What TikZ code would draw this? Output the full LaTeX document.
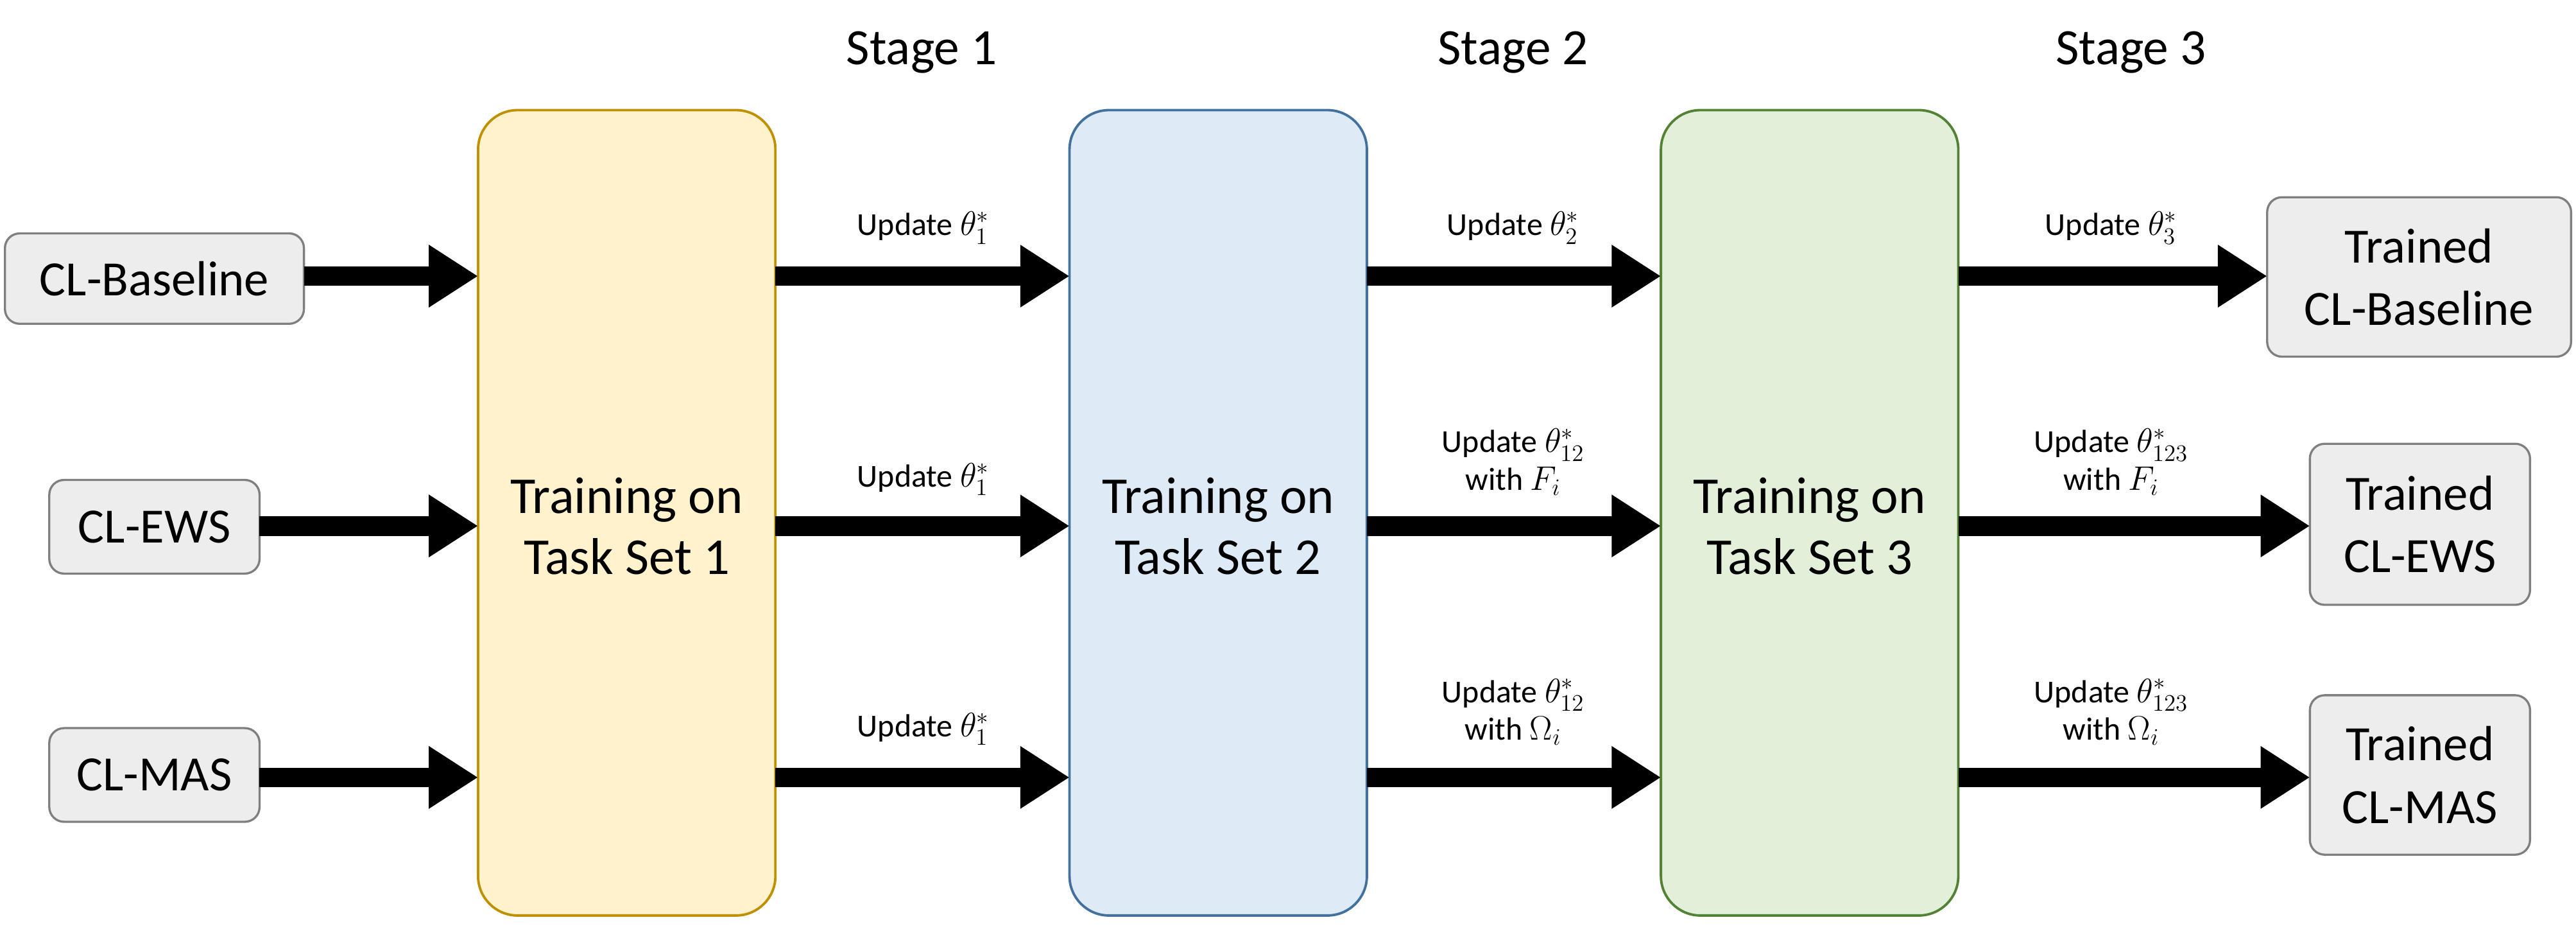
\documentclass[tikz,border=0pt]{standalone}
\usepackage{fontspec}
\setmainfont{Carlito}
\usetikzlibrary{arrows.meta}
\definecolor{yfill}{HTML}{FFF2CC}\definecolor{ydraw}{HTML}{BF9000}
\definecolor{bfill}{HTML}{DEEBF7}\definecolor{bdraw}{HTML}{41719C}
\definecolor{gfill}{HTML}{E2F0D9}\definecolor{gdraw}{HTML}{548235}
\definecolor{sfill}{HTML}{EDEDED}\definecolor{sdraw}{HTML}{7F7F7F}
\begin{document}
\begin{tikzpicture}[x=1pt,y=-1pt,
 stagebox/.style={rounded corners=24pt,line width=1.5pt,align=center,font=\fontsize{31.5}{37}\selectfont},
 smallbox/.style={rounded corners=9pt,line width=1.3pt,draw=sdraw,fill=sfill,align=center,font=\fontsize{30}{38}\selectfont},
 bigarrow/.style={line width=12pt,-{Triangle[length=30pt,width=36pt]}},
 lbl/.style={font=\fontsize{19.5}{23}\selectfont,align=center,anchor=south},
 stg/.style={font=\fontsize{31}{36}\selectfont}]
\useasboundingbox (0,0) rectangle (1568,576);
\draw[stagebox,draw=ydraw,fill=yfill] (291,67) rectangle (472,557);
\draw[stagebox,draw=bdraw,fill=bfill] (651,67) rectangle (832,557);
\draw[stagebox,draw=gdraw,fill=gfill] (1011,67) rectangle (1192,557);
\node[stagebox,draw=none] (s1) at (381.5,320) {Training on\\Task Set 1};
\node[stagebox,draw=none] (s2) at (741.5,320) {Training on\\Task Set 2};
\node[stagebox,draw=none] (s3) at (1101.5,320) {Training on\\Task Set 3};
\node[stg] (t1) at (561,32) {Stage 1};
\node[stg] (t2) at (921,32) {Stage 2};
\node[stg] (t3) at (1297,32) {Stage 3};
\draw[smallbox] (3,142) rectangle (185,197) node[midway,draw=none] (b1) {CL-Baseline};
\draw[smallbox] (30,292) rectangle (158,349) node[midway,draw=none] (b2) {CL-EWS};
\draw[smallbox] (30,443) rectangle (158,500) node[midway,draw=none] (b3) {CL-MAS};
\draw[smallbox] (1380,120) rectangle (1565,217) node[midway,draw=none] (r1) {Trained\\CL-Baseline};
\draw[smallbox] (1406,270) rectangle (1540,368) node[midway,draw=none] (r2) {Trained\\CL-EWS};
\draw[smallbox] (1406,423) rectangle (1540,520) node[midway,draw=none] (r3) {Trained\\CL-MAS};
\coordinate (L1) at (291,168); \coordinate (L2) at (291,320); \coordinate (L3) at (291,473);
\foreach \y/\n in {168/1,320/2,473/3}{
 \coordinate (a\n) at (472,\y); \coordinate (b\n) at (651,\y);
 \coordinate (c\n) at (832,\y); \coordinate (d\n) at (1011,\y);
 \coordinate (e\n) at (1192,\y);}
\draw[bigarrow] (185,168) -- (L1);
\draw[bigarrow] (158,320) -- (L2);
\draw[bigarrow] (158,473) -- (L3);
\draw[bigarrow] (a1) -- (b1); \draw[bigarrow] (a2) -- (b2); \draw[bigarrow] (a3) -- (b3);
\draw[bigarrow] (c1) -- (d1); \draw[bigarrow] (c2) -- (d2); \draw[bigarrow] (c3) -- (d3);
\draw[bigarrow] (e1) -- (1380,168); \draw[bigarrow] (e2) -- (1406,320); \draw[bigarrow] (e3) -- (1406,473);
\node[lbl] (u11) at (562,152) {Update $\theta_1^*$};
\node[lbl] (u12) at (562,305) {Update $\theta_1^*$};
\node[lbl] (u13) at (562,457) {Update $\theta_1^*$};
\node[lbl] (u21) at (921,152) {Update $\theta_2^*$};
\node[lbl] (u22) at (921,305) {Update $\theta_{12}^*$\\with $F_i$};
\node[lbl] (u23) at (921,457) {Update $\theta_{12}^*$\\with $\Omega_i$};
\node[lbl] (u31) at (1285,152) {Update $\theta_3^*$};
\node[lbl] (u32) at (1285,305) {Update $\theta_{123}^*$\\with $F_i$};
\node[lbl] (u33) at (1285,457) {Update $\theta_{123}^*$\\with $\Omega_i$};
\end{tikzpicture}
\end{document}
